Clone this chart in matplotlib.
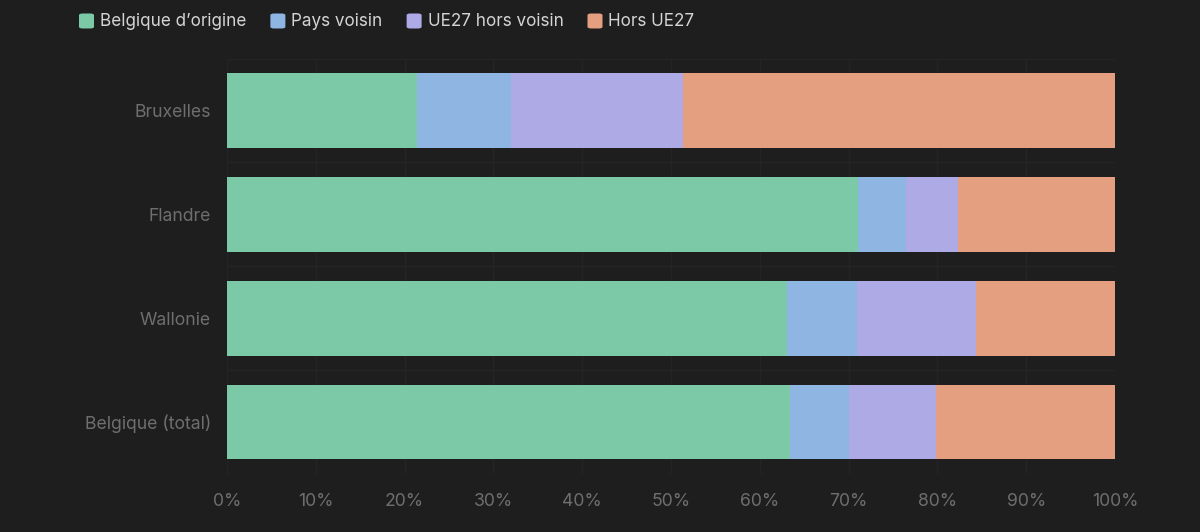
import matplotlib
matplotlib.use("Agg")
import matplotlib.pyplot as plt
from matplotlib.patches import FancyBboxPatch
import numpy as np

categories = ["Bruxelles", "Flandre", "Wallonie", "Belgique (total)"]
series_names = ["Belgique d\u2019origine", "Pays voisin", "UE27 hors voisin", "Hors UE27"]
belgique_origine = [21.4, 71.1, 63.1, 63.4]
pays_voisin = [10.6, 5.4, 7.9, 6.7]
ue27_hors_voisin = [19.4, 5.8, 13.3, 9.7]
hors_ue27 = [48.6, 17.7, 15.7, 20.2]
xtick_values = [0, 10, 20, 30, 40, 50, 60, 70, 80, 90, 100]
xtick_labels = [f"{v}%" for v in xtick_values]

colors = ["#7cc9a7", "#8fb5e3", "#aeaae6", "#e49e80"]
bg = "#1e1e1e"
grid_c = "#242424"
tick_c = "#6e6e6e"
legend_c = "#d4d4d4"

plt.rcParams['font.family'] = ['Inter', 'DejaVu Sans']

fig = plt.figure(figsize=(12, 5.32), dpi=100, facecolor=bg)
ax = fig.add_axes([227/1200, 1-474/532, 888/1200, (474-58.5)/532])
ax.set_facecolor(bg)

y = np.arange(len(categories))
left = np.zeros(len(categories))
for name, vals, col in zip(series_names, [belgique_origine, pays_voisin, ue27_hors_voisin, hors_ue27], colors):
    ax.barh(y, vals, left=left, height=0.72, color=col, linewidth=0, zorder=3, label=name)
    left = left + np.array(vals)

ax.set_xlim(0, 100)
ax.set_ylim(len(categories) - 0.5, -0.5)
ax.set_yticks(y)
ax.set_yticklabels(categories)
ax.set_xticks(xtick_values)
ax.set_xticklabels(xtick_labels)
ax.tick_params(axis='y', length=0, pad=11.5, labelsize=12.7, labelcolor=tick_c)
ax.tick_params(axis='x', length=0, pad=14, labelsize=12.7, labelcolor=tick_c)
for s in ax.spines.values():
    s.set_visible(False)
ax.grid(axis='x', color=grid_c, linewidth=1, zorder=0)
for b in np.arange(-0.5, len(categories) + 0.5, 1):
    ax.axhline(b, color=grid_c, linewidth=1, zorder=0)

# legend drawn manually with rounded square markers
fig.canvas.draw()
renderer = fig.canvas.get_renderer()
x = 79
baseline = 26.5
mtop = 13.5
msize = 15
for name, col in zip(series_names, colors):
    p = FancyBboxPatch((x / 1200, (532 - mtop - msize) / 532), msize / 1200, msize / 532,
                       boxstyle="round,pad=0,rounding_size=0.003", transform=fig.transFigure,
                       facecolor=col, edgecolor='none')
    fig.patches.append(p)
    t = fig.text((x + msize + 6) / 1200, (532 - baseline) / 532, name, color=legend_c,
                 fontsize=12.3, va='baseline', ha='left')
    bb = t.get_window_extent(renderer=renderer)
    x = bb.x1 + 24

fig.savefig("out.png", dpi=100, facecolor=bg)
